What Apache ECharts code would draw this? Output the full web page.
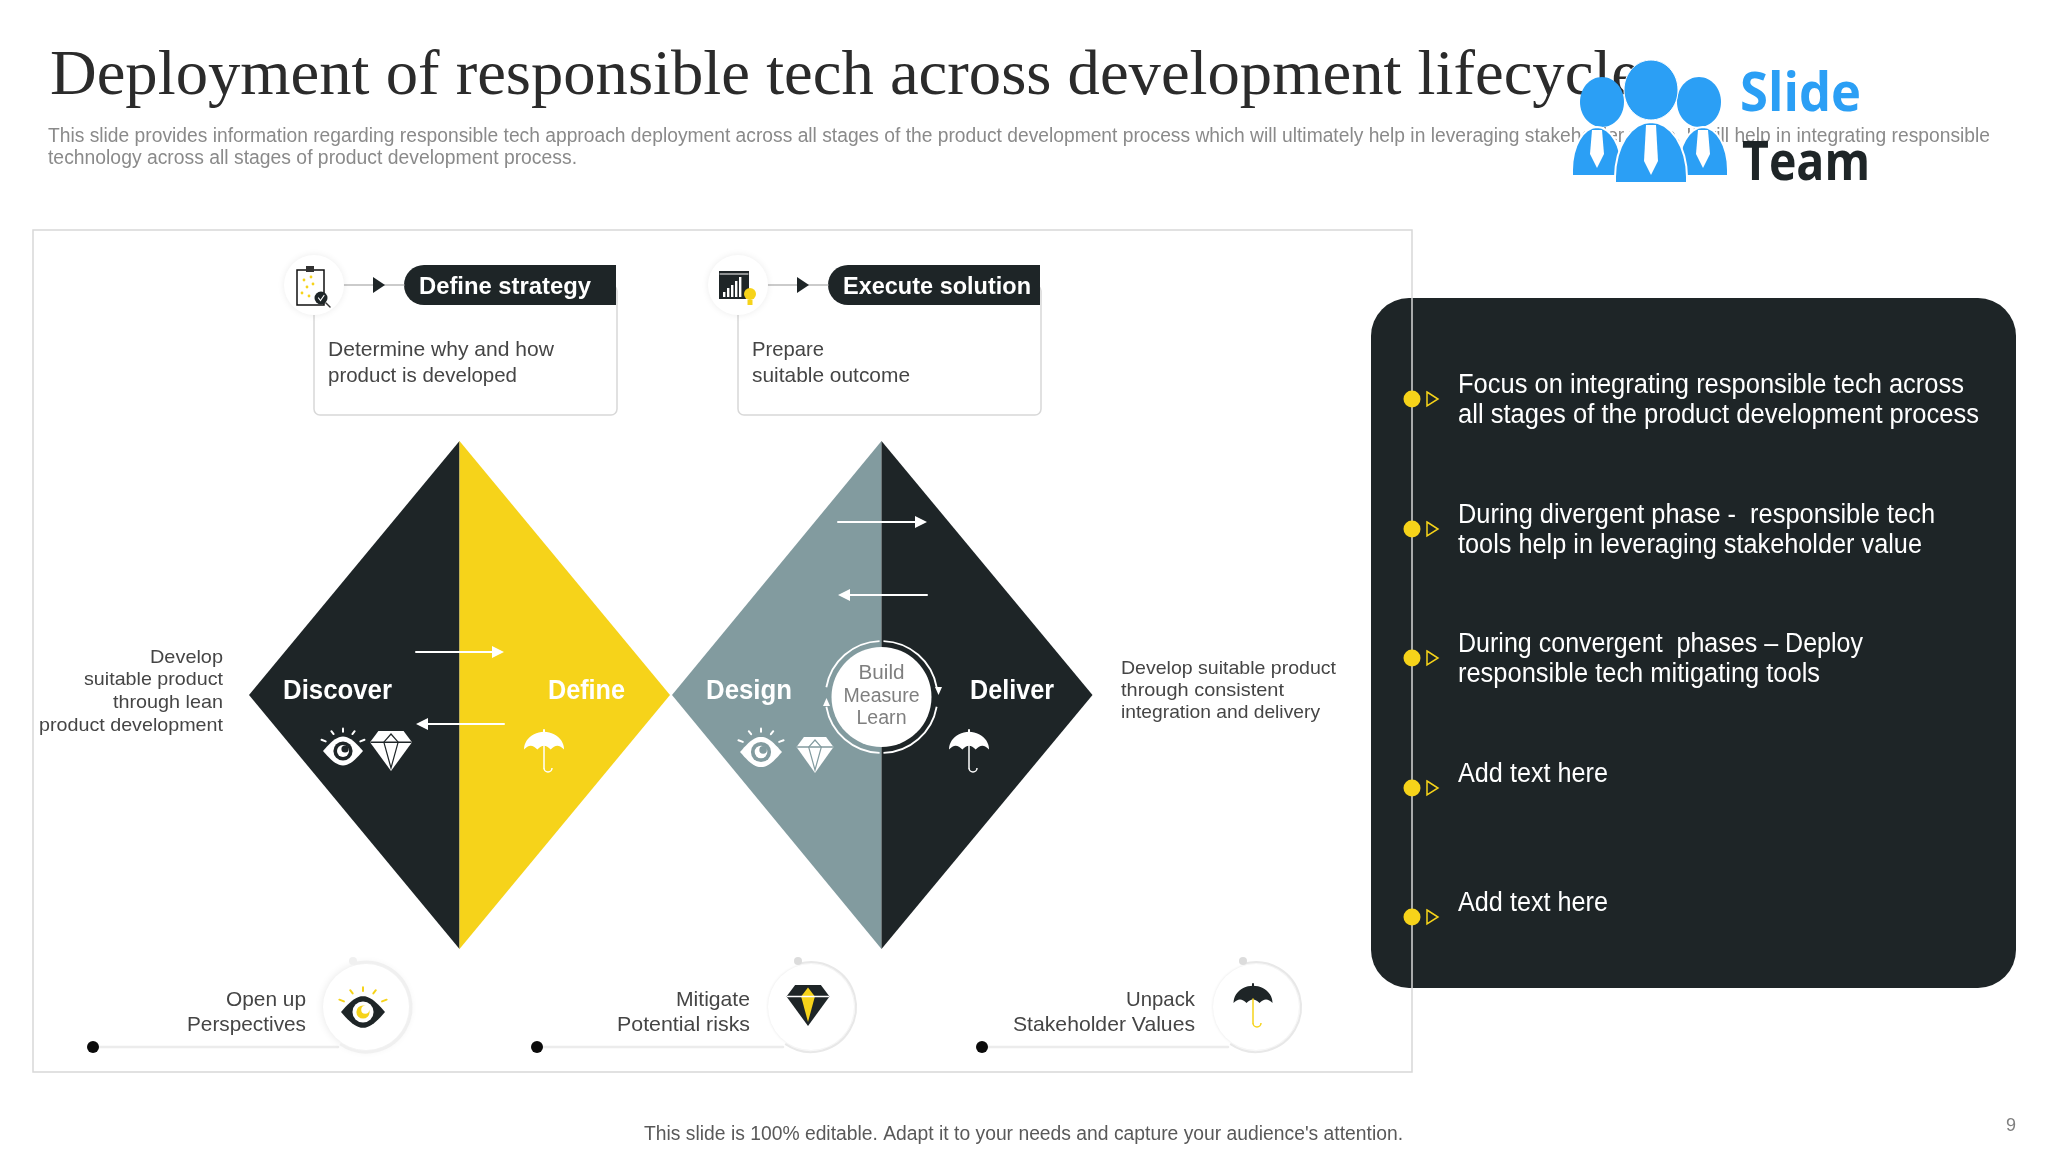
<!DOCTYPE html>
<html>
<head>
<meta charset="utf-8">
<title>Deployment of responsible tech</title>
<script src="https://cdn.jsdelivr.net/npm/echarts@6/dist/echarts.min.js"></script>
<style>html,body{margin:0;background:#fff}#main{width:2048px;height:1152px}</style>
</head>
<body>
<div id="main"></div>
<script>
var slideTitle = 'Deployment of responsible tech across development lifecycle';
var slideIntro = ['This slide provides information regarding responsible tech approach deployment across all stages of the product development process which will ultimately help in leveraging stakeholder value. It will help in integrating responsible',
    'technology across all stages of product development process.'];
var headers = ['Define strategy', 'Execute solution'];
var headerNotes = [['Determine why and how', 'product is developed'], ['Prepare', 'suitable outcome']];
var phases = ['Discover', 'Define', 'Design', 'Deliver'];
var cycleWords = ['Build', 'Measure', 'Learn'];
var leftNote = ['Develop', 'suitable product', 'through lean', 'product development'];
var rightNote = ['Develop suitable product', 'through consistent', 'integration and delivery'];
var bottomLabels = [['Open up', 'Perspectives'], ['Mitigate', 'Potential risks'], ['Unpack', 'Stakeholder Values']];
var panelItems = [
    ['Focus on integrating responsible tech across', 'all stages of the product development process'],
    ['During divergent phase -  responsible tech', 'tools help in leveraging stakeholder value'],
    ['During convergent  phases \u2013 Deploy', 'responsible tech mitigating tools'],
    ['Add text here'],
    ['Add text here']
];
var footerText = "This slide is 100% editable. Adapt it to your needs and capture your audience's attention.";
var pageNumber = '9';

var DARK = '#1e2527', YELLOW = '#f6d31a', TEAL = '#829b9f', BLUE = '#2b9ff5', BODY = '#454545';
var SANS = '"Liberation Sans", Arial, sans-serif';
var g = [];
var measure = document.createElement('canvas').getContext('2d');

// text squeezed to the width it has in the slide
function label(text, x, y, font, width, fill, align) {
    measure.font = font;
    g.push({
        type: 'text', x: x, y: y,
        scaleX: width ? width / measure.measureText(text).width : 1,
        style: { text: text, font: font, fill: fill, textAlign: align || 'left', textVerticalAlign: 'middle' }
    });
}
function poly(points, fill, extra) {
    g.push({ type: 'polygon', shape: { points: points }, style: Object.assign({ fill: fill }, extra || {}) });
}
function line(x1, y1, x2, y2, color, w) {
    g.push({ type: 'line', shape: { x1: x1, y1: y1, x2: x2, y2: y2 }, style: { stroke: color, lineWidth: w || 1, lineCap: 'round' } });
}
function circle(cx, cy, r, style) {
    g.push({ type: 'circle', shape: { cx: cx, cy: cy, r: r }, style: style });
}
function arc(cx, cy, r, a, b, color, w) {
    g.push({ type: 'arc', shape: { cx: cx, cy: cy, r: r, startAngle: a * Math.PI / 180, endAngle: b * Math.PI / 180 }, style: { stroke: color, lineWidth: w, fill: 'none' } });
}

function eye(cx, cy, w, body, inner, iris, ray) {
    var pts = [], hh = w * 0.36, i;
    for (i = 0; i <= 20; i++) pts.push([cx - w / 2 + w * i / 20, cy - hh * Math.sin(Math.PI * i / 20)]);
    for (i = 19; i > 0; i--) pts.push([cx - w / 2 + w * i / 20, cy + hh * Math.sin(Math.PI * i / 20)]);
    poly(pts, body);
    circle(cx, cy, w * 0.24, { fill: inner });
    circle(cx, cy, w * 0.15, { fill: iris });
    circle(cx + w * 0.05, cy - w * 0.05, w * 0.09, { fill: inner });
    [-150, -118, -90, -62, -30].forEach(function (d) {
        var a = d * Math.PI / 180;
        line(cx + Math.cos(a) * w * 0.5, cy + Math.sin(a) * w * 0.48, cx + Math.cos(a) * w * 0.62, cy + Math.sin(a) * w * 0.56, ray, 2);
    });
}
function gem(cx, top, w, h, fill, facet, kite) {
    var band = top + h * 0.28;
    poly([[cx - w * 0.3, top], [cx + w * 0.3, top], [cx + w / 2, band], [cx, top + h], [cx - w / 2, band]], fill);
    if (kite) {
        poly([[cx, top + h * 0.06], [cx + w * 0.16, band], [cx, top + h * 0.9], [cx - w * 0.16, band]], kite);
    } else {
        poly([[cx, top + 3], [cx + w * 0.17, band], [cx, top + h - 3], [cx - w * 0.17, band]], 'none', { stroke: facet, lineWidth: 1.2 });
    }
    line(cx - w / 2 + 1, band, cx + w / 2 - 1, band, facet, 1.5);
}
function umbrella(cx, top, w, h, canopy, stem) {
    var R = w / 2, cy = top + R * 0.92, pts = [], i, k;
    for (i = 0; i <= 24; i++) {
        var a = Math.PI + Math.PI * i / 24;
        pts.push([cx + R * Math.cos(a), cy + R * 0.88 * Math.sin(a)]);
    }
    for (k = 3; k > 0; k--) {
        for (i = 1; i <= 8; i++) {
            var x = cx - R + (2 * R / 3) * (k - i / 8);
            pts.push([x, cy - R * 0.18 * Math.sin(Math.PI * i / 8)]);
        }
    }
    poly(pts, canopy);
    line(cx, top - 1, cx, top + 3, canopy, 2);
    line(cx, cy - 4, cx, top + h - 5, stem, 1.5);
    arc(cx + 4, top + h - 5, 4, 0, 180, stem, 1.5);
}

function buildSlide() {
    // title and intro sit under the logo
    label(slideTitle, 50, 77, '64px "Liberation Serif", serif', 1590, '#2b2b2b');
    label(slideIntro[0], 48, 136, '20px ' + SANS, 1942, '#8a8a8a');
    label(slideIntro[1], 48, 158, '20px ' + SANS, 529, '#8a8a8a');

    // logo
    [[1602, 102, 22, 25], [1699, 102, 22, 25]].forEach(function (h) {
        g.push({ type: 'ellipse', shape: { cx: h[0], cy: h[1], rx: h[2], ry: h[3] }, style: { fill: BLUE } });
    });
    function person(cx, top, bottom, rx) {
        var pts = [], i;
        for (i = 0; i <= 16; i++) {
            var a = Math.PI + Math.PI * i / 16;
            pts.push([cx + rx * Math.cos(a), bottom - 6 + (bottom - 6 - top) * Math.sin(a)]);
        }
        pts.push([cx + rx, bottom], [cx - rx, bottom]);
        poly(pts, BLUE, { stroke: '#ffffff', lineWidth: 2 });
        poly([[cx - 5, top + 3], [cx + 5, top + 3], [cx + 7, bottom - 22], [cx, bottom - 8], [cx - 7, bottom - 22]], '#ffffff');
    }
    person(1597, 127, 176, 25);
    person(1703, 127, 176, 25);
    g.push({ type: 'ellipse', shape: { cx: 1651, cy: 90, rx: 27, ry: 30 }, style: { fill: BLUE, stroke: '#ffffff', lineWidth: 1 } });
    person(1651, 122, 183, 36);
    label('Slide', 1740, 96, 'bold 54px "Open Sans", sans-serif', 121, BLUE);
    label('Team', 1742, 165, 'bold 54px "Open Sans", sans-serif', 128, DARK);

    // dark panel, the frame line runs over it
    g.push({ type: 'rect', shape: { x: 1371, y: 298, width: 645, height: 690, r: 38 }, style: { fill: DARK } });
    g.push({ type: 'rect', shape: { x: 33, y: 230, width: 1379, height: 842 }, style: { fill: 'none', stroke: '#d8d8d8', lineWidth: 1.5 } });
    var panelY = [399, 529, 658, 788, 917];
    panelItems.forEach(function (lines, n) {
        var y = panelY[n];
        circle(1412, y, 8.5, { fill: YELLOW });
        poly([[1427, y - 7], [1438, y], [1427, y + 7]], 'none', { stroke: YELLOW, lineWidth: 1.5 });
    });
    var panelWidths = [[506, 521], [477, 464], [405, 362], [150], [150]];
    var panelLineY = [[386, 416], [516, 546], [645, 675], [775], [904]];
    panelItems.forEach(function (lines, n) {
        lines.forEach(function (t, k) {
            label(t, 1458, panelLineY[n][k], '27px ' + SANS, panelWidths[n][k], '#ffffff');
        });
    });

    // two header cards
    [0, 424].forEach(function (dx, n) {
        g.push({ type: 'rect', shape: { x: 314 + dx, y: 285, width: 303, height: 130, r: 6 }, style: { fill: '#ffffff', stroke: '#d8d8d8', lineWidth: 1.5 } });
        g.push({ type: 'rect', shape: { x: 404 + dx, y: 265, width: 212, height: 40, r: [20, 0, 0, 20] }, style: { fill: DARK } });
        line(343 + dx, 285, 404 + dx, 285, '#c4c4c4', 1.5);
        poly([[373 + dx, 277], [385 + dx, 285], [373 + dx, 293]], DARK);
        circle(314 + dx, 285, 30, { fill: '#ffffff', shadowBlur: 7, shadowColor: 'rgba(0,0,0,0.08)' });
        label(headers[n], (n ? 843 : 419), 287, 'bold 24px ' + SANS, n ? 188 : 172, '#ffffff');
    });
    label(headerNotes[0][0], 328, 350, '21px ' + SANS, 226, BODY);
    label(headerNotes[0][1], 328, 376, '21px ' + SANS, 189, BODY);
    label(headerNotes[1][0], 752, 350, '21px ' + SANS, 72, BODY);
    label(headerNotes[1][1], 752, 376, '21px ' + SANS, 158, BODY);

    // clipboard icon
    g.push({ type: 'rect', shape: { x: 297, y: 270, width: 27, height: 35 }, style: { fill: '#fff', stroke: '#111', lineWidth: 1.5 } });
    g.push({ type: 'rect', shape: { x: 306, y: 266, width: 8, height: 6 }, style: { fill: '#333' } });
    [[304, 280], [311, 277], [307, 287], [302, 293], [313, 284], [309, 296]].forEach(function (p) {
        circle(p[0], p[1], 1.4, { fill: YELLOW });
    });
    circle(321, 298, 6.5, { fill: DARK });
    line(318.5, 298, 320.5, 300.5, '#fff', 1.2);
    line(320.5, 300.5, 324, 295.5, '#fff', 1.2);
    line(326, 303, 330, 307, '#333', 1.5);

    // chart-and-bulb icon
    g.push({ type: 'rect', shape: { x: 719, y: 271, width: 30, height: 28 }, style: { fill: DARK } });
    [5, 9, 12, 16, 20].forEach(function (h, n) {
        g.push({ type: 'rect', shape: { x: 723 + n * 4, y: 297 - h, width: 2.4, height: h }, style: { fill: '#ffffff' } });
    });
    circle(750, 294, 6, { fill: YELLOW });
    g.push({ type: 'rect', shape: { x: 747.5, y: 300, width: 5, height: 5 }, style: { fill: YELLOW } });
    line(720, 274, 748, 274, '#ffffff', 1);

    // the double diamond
    var midY = 695, topY = 441, botY = 949;
    poly([[249, midY], [459.5, topY], [459.5, botY]], DARK);
    poly([[459.5, topY], [670, midY], [459.5, botY]], YELLOW);
    poly([[672, midY], [881.5, topY], [881.5, botY]], TEAL);
    poly([[881.5, topY], [1092.5, midY], [881.5, botY]], DARK);

    function arrow(x1, x2, y) {
        var d = x2 > x1 ? 1 : -1;
        line(x1, y, x2 - d * 8, y, '#ffffff', 2);
        poly([[x2 - d * 12, y - 6], [x2, y], [x2 - d * 12, y + 6]], '#ffffff');
    }
    arrow(416, 504, 652);
    arrow(504, 416, 724);
    arrow(838, 927, 522);
    arrow(927, 838, 595);

    var phaseFont = 'bold 27px ' + SANS;
    label(phases[0], 283, 692, phaseFont, 109, '#ffffff');
    label(phases[1], 548, 692, phaseFont, 77, '#ffffff');
    label(phases[2], 706, 692, phaseFont, 86, '#ffffff');
    label(phases[3], 970, 692, phaseFont, 84, '#ffffff');

    eye(343, 751, 40, '#ffffff', DARK, '#ffffff', '#ffffff');
    gem(391, 731, 42, 40, '#ffffff', DARK);
    umbrella(544, 731, 40, 42, '#ffffff', '#ffffff');
    eye(761, 752, 42, '#ffffff', TEAL, '#ffffff', '#ffffff');
    gem(815, 737, 37, 36, '#ffffff', TEAL);
    umbrella(969, 731, 40, 42, '#ffffff', '#ffffff');

    // build / measure / learn loop
    circle(881.5, 697, 50, { fill: '#ffffff' });
    arc(881.5, 697, 56, -88, -10, '#ffffff', 1.8);
    arc(881.5, 697, 56, 10, 88, '#ffffff', 1.8);
    arc(881.5, 697, 56, 92, 170, '#ffffff', 1.8);
    arc(881.5, 697, 56, 190, 268, '#ffffff', 1.8);
    poly([[935, 687], [942, 687], [938.5, 695]], '#ffffff');
    poly([[823, 706], [830, 706], [826.5, 698]], '#ffffff');
    var cycleY = [673, 696, 718], cycleW = [46, 76, 50];
    cycleWords.forEach(function (t, n) {
        label(t, 881.5 - cycleW[n] / 2, cycleY[n], '20px ' + SANS, cycleW[n], '#7f7f7f');
    });

    // side notes
    var leftY = [658, 680, 703, 726], leftW = [73, 139, 110, 184];
    leftNote.forEach(function (t, n) { label(t, 223, leftY[n], '19px ' + SANS, leftW[n], BODY, 'right'); });
    var rightY = [669, 691, 713], rightW = [215, 163, 199];
    rightNote.forEach(function (t, n) { label(t, 1121, rightY[n], '19px ' + SANS, rightW[n], BODY); });

    // bottom row
    var bottomX = [366, 811, 1256], dotX = [93, 537, 982];
    var labelRight = [306, 750, 1195], labelW = [[80, 119], [74, 133], [69, 182]];
    bottomX.forEach(function (cx, n) {
        line(dotX[n] + 6, 1047, cx - 28, 1047, '#ececec', 2.5);
        circle(dotX[n], 1047, 6, { fill: '#0b0b0b' });
        circle(cx, 1007, 43, { fill: '#ffffff', shadowBlur: n === 0 ? 8 : 3, shadowColor: 'rgba(0,0,0,0.1)' });
        arc(cx, 1007, 45, -105, 125, n === 0 ? '#f0f0f0' : '#e8e8e8', n === 0 ? 3 : 2);
        circle(cx - 13, 961, 4, { fill: n === 0 ? '#f0f0f0' : '#dcdcdc' });
        label(bottomLabels[n][0], labelRight[n], 1000, '21px ' + SANS, labelW[n][0], BODY, 'right');
        label(bottomLabels[n][1], labelRight[n], 1025, '21px ' + SANS, labelW[n][1], BODY, 'right');
    });
    eye(363, 1012, 44, DARK, '#ffffff', YELLOW, YELLOW);
    gem(808, 985, 43, 41, DARK, '#ffffff', YELLOW);
    umbrella(1253, 985, 39, 43, DARK, YELLOW);

    // footer
    label(footerText, 644, 1134, '20px ' + SANS, 759, '#595959');
    label(pageNumber, 2011, 1126, '18px ' + SANS, null, '#7f7f7f', 'center');
}
buildSlide();

var myChart = echarts.init(document.getElementById('main'), null, { renderer: 'canvas' });
var option = {
    backgroundColor: '#ffffff',
    animation: false,
    graphic: { elements: g }
};
myChart.setOption(option);
</script>
</body>
</html>
